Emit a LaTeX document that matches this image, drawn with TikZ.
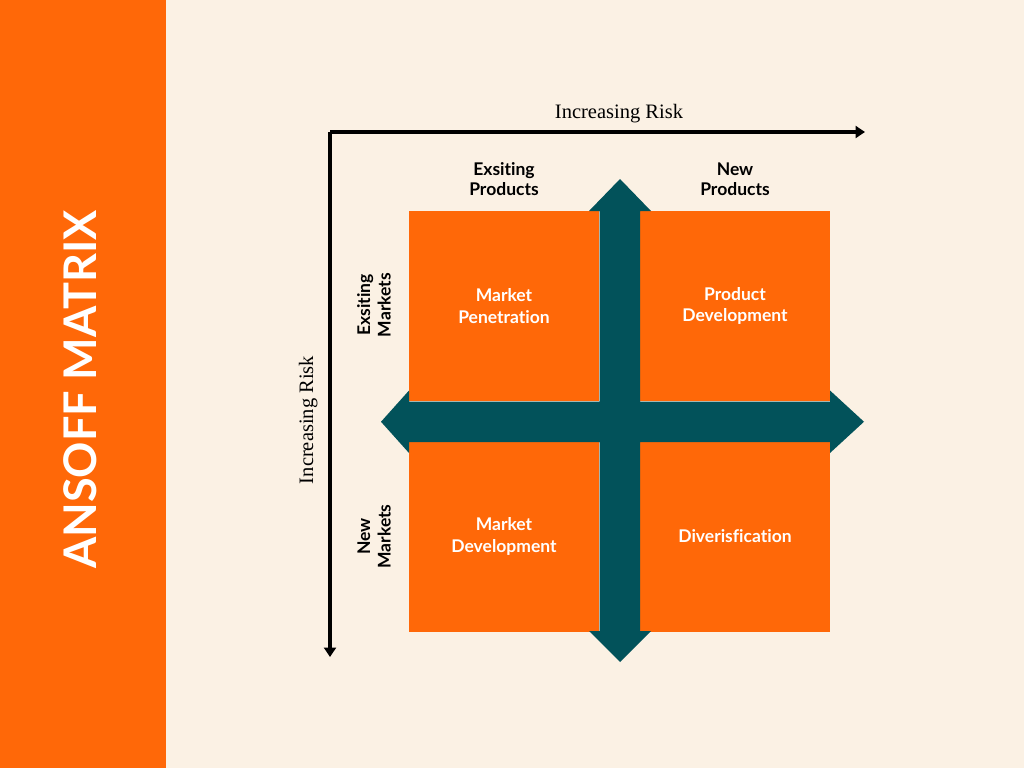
\documentclass[tikz,border=0pt]{standalone}
\usepackage{fontspec}
\setmainfont{Liberation Serif}
\setsansfont{Lato}[Ligatures={NoCommon}]
\usetikzlibrary{arrows.meta}
\definecolor{ansorange}{HTML}{FF6808}
\definecolor{cream}{HTML}{FBF1E4}
\definecolor{deepteal}{HTML}{02525A}

\tikzset{
  quad/.style={fill=ansorange, minimum width=190pt, minimum height=190pt,
    inner sep=0pt, align=center, text=white,
    font=\sffamily\bfseries\fontsize{17.5}{21.5}\selectfont},
  header/.style={align=center, inner sep=0pt,
    font=\sffamily\bfseries\fontsize{17.5}{20.5}\selectfont},
  risk/.style={inner sep=0pt, font=\fontsize{20.5}{24}\selectfont},
  axis/.style={line width=3.2pt, -{Triangle[length=9.5pt,width=12pt]}},
}

\begin{document}
\begin{tikzpicture}[x=1pt, y=-1pt]
  % page and side band
  \fill[cream] (0,0) rectangle (1024,768);
  \useasboundingbox (0,0) rectangle (1024,768);
  \fill[ansorange] (0,0) rectangle (166,768);
  \node[rotate=90, inner sep=0pt, text=white,
        font=\sffamily\bfseries\fontsize{45}{50}\selectfont] (title) at (80,389.5) {ANSOFF MATRIX};

  % risk axes
  \coordinate (origin) at (330,132);
  \coordinate (xend) at (865,132);
  \coordinate (yend) at (330,657);
  \draw[axis] (origin) -- (xend);
  \draw[axis] (origin) -- (yend);
  \node[risk, anchor=base] (riskx) at (619,118) {Increasing Risk};
  \node[risk, anchor=base, rotate=90] (risky) at (313,420) {Increasing Risk};

  % the four quadrants
  \node[quad] (mp) at (504,306) {Market\\Penetration};
  \node[quad] (pd) at (735,306) {Product\\Development};
  \node[quad] (md) at (504,536.5) {Market\\Development};
  \node[quad] (dv) at (735,536.5) {Diverisfication};

  % double-headed cross between the quadrants
  \fill[deepteal]
    (620,179) -- (651,211) -- (640,211) -- (640,401.5) -- (830,401.5)
    -- (830,390.5) -- (864,421.75) -- (830,453) -- (830,442) -- (640,442)
    -- (640,631) -- (651,631) -- (620,662) -- (589,631) -- (599.5,631)
    -- (599.5,442) -- (409,442) -- (409,453) -- (381,421.75) -- (409,390.5)
    -- (409,401.5) -- (599.5,401.5) -- (599.5,211) -- (589,211) -- cycle;

  % row and column headings
  \node[header] (ep) at (504,179) {Exsiting\\Products};
  \node[header] (np) at (735,179) {New\\Products};
  \node[header, rotate=90] (em) at (374,305) {Exsiting\\Markets};
  \node[header, rotate=90] (nm) at (374,536.5) {New\\Markets};
\end{tikzpicture}
\end{document}
